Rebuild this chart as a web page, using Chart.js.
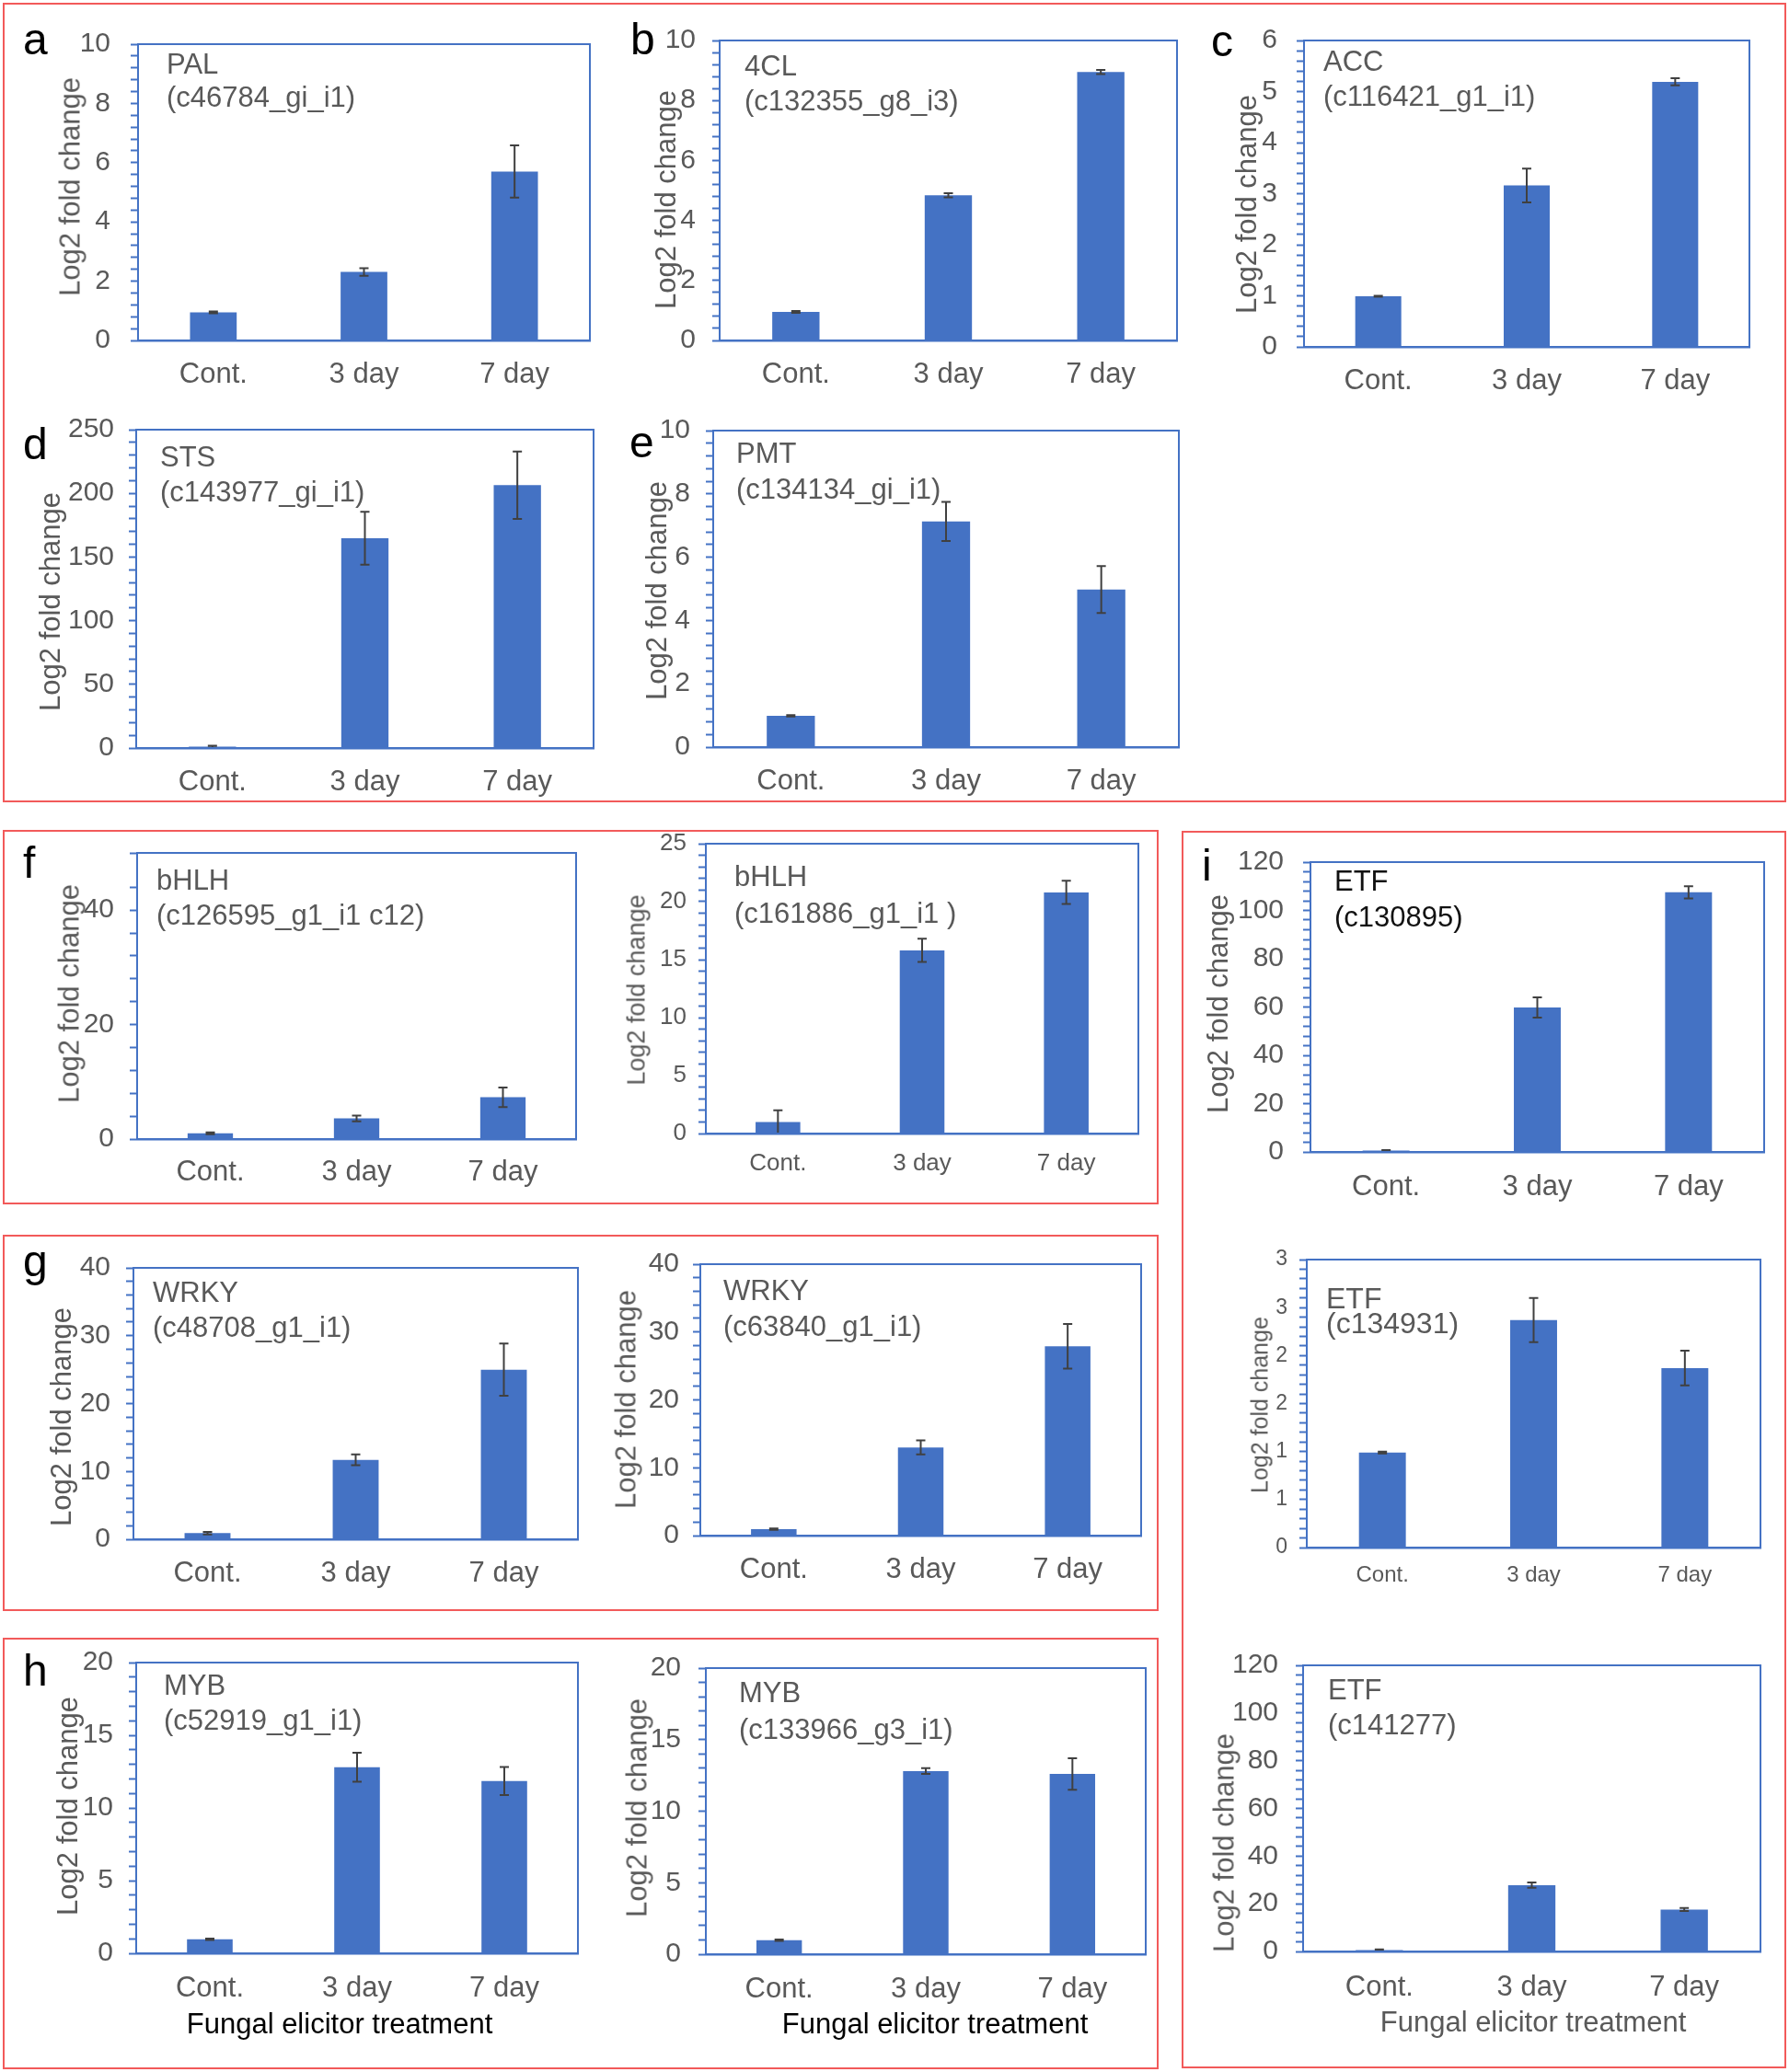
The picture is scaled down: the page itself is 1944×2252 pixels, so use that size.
<!DOCTYPE html>
<html>
<head>
<meta charset="utf-8">
<script src="https://cdn.jsdelivr.net/npm/chart.js@4.4.1/dist/chart.umd.min.js"></script>
<style>
  html, body { margin: 0; padding: 0; background: #fff; }
  #page { position: relative; width: 1944px; height: 2252px; overflow: hidden; font-family: "Liberation Sans", Arial, sans-serif; }
  canvas { position: absolute; }
  .txt { position: absolute; white-space: nowrap; line-height: 1; z-index: 2; }
  .redbox { position: absolute; border: 2px solid #f25a5a; box-sizing: border-box; }
</style>
</head>
<body>
<div id="page"></div>
<script>
/* global Chart */

// categories shared by every panel
const categories = ['Cont.', '3 day', '7 day'];

// mean log2 fold change and error per gene
const palMean = [0.95, 2.31, 5.70];   const palErr = [0.03, 0.13, 0.88];
const clMean = [0.95, 4.84, 8.95];    const clErr = [0.03, 0.07, 0.07];
const accMean = [0.99, 3.16, 5.19];   const accErr = [0.01, 0.33, 0.07];
const stsMean = [1.0, 164.8, 206.4];  const stsErr = [0.8, 20.8, 26.5];
const pmtMean = [0.99, 7.13, 4.98];   const pmtErr = [0.02, 0.62, 0.74];
const bhlh1Mean = [1.0, 3.6, 7.3];    const bhlh1Err = [0.15, 0.5, 1.7];
const bhlh2Mean = [1.0, 15.8, 20.8];  const bhlh2Err = [1.0, 1.0, 1.0];
const wrky1Mean = [0.9, 11.7, 25.0];  const wrky1Err = [0.2, 0.8, 3.85];
const wrky2Mean = [0.95, 13.0, 27.9]; const wrky2Err = [0.1, 1.05, 3.3];
const myb1Mean = [0.96, 12.8, 11.85]; const myb1Err = [0.05, 1.0, 0.97];
const myb2Mean = [0.98, 12.8, 12.6];  const myb2Err = [0.05, 0.2, 1.1];
const etf1Mean = [0.6, 59.8, 107.5];  const etf1Err = [0.2, 4.2, 2.5];
const etf2Mean = [0.99, 2.37, 1.87];  const etf2Err = [0.01, 0.23, 0.18];
const etf3Mean = [0.6, 27.8, 17.6];   const etf3Err = [0.3, 1.1, 0.6];

// y axis ranges: [max, labelled step, minor tick step]
const palAxis = [10, 2, 0.4];
const clAxis = [10, 2, 0.4];
const accAxis = [6, 1, 0.2];
const stsAxis = [250, 50, 10];
const pmtAxis = [10, 2, 0.4];
const bhlh1Axis = [50, 20, 4];
const bhlh2Axis = [25, 5, 1];
const wrkyAxis = [40, 10, 2];
const mybAxis = [20, 5, 1];
const etfBigAxis = [120, 20, 4];
const etf2Axis = [3, 0.5, 0.1];

const BLUE = '#4472C4';
const GREY = '#595959';
const FONT = '"Liberation Sans", Arial, sans-serif';
Chart.defaults.font.family = FONT;

const page = document.getElementById('page');

function addText(txt, x, baseline, size, color, align) {
  const d = document.createElement('div');
  d.className = 'txt';
  d.textContent = txt;
  d.style.fontSize = size + 'px';
  d.style.color = color;
  d.style.top = (baseline - 0.846 * size) + 'px';
  d.style.left = x + 'px';
  if (align === 'center') d.style.transform = 'translateX(-50%)';
  page.appendChild(d);
}

function addTitle(txt, cx, cy, size) {
  const d = document.createElement('div');
  d.className = 'txt';
  d.textContent = txt;
  d.style.fontSize = size + 'px';
  d.style.color = GREY;
  d.style.left = cx + 'px';
  d.style.top = cy + 'px';
  d.style.transform = 'translate(-50%, -50%) rotate(-90deg)';
  page.appendChild(d);
}

function addBox(l, t, r, b) {
  const d = document.createElement('div');
  d.className = 'redbox';
  d.style.left = l + 'px'; d.style.top = t + 'px';
  d.style.width = (r - l) + 'px'; d.style.height = (b - t) + 'px';
  page.appendChild(d);
}

// blue frame round the plot area
const framePlugin = {
  id: 'frame',
  afterDraw(chart) {
    const { ctx, chartArea: a } = chart;
    ctx.save();
    ctx.strokeStyle = BLUE;
    ctx.lineWidth = 2;
    ctx.strokeRect(a.left, a.top, a.right - a.left, a.bottom - a.top);
    ctx.restore();
  }
};

// error bars from the dataset's errors array
const errorBarPlugin = {
  id: 'errorBars',
  afterDatasetsDraw(chart) {
    const { ctx, scales: { y } } = chart;
    const ds = chart.data.datasets[0];
    const meta = chart.getDatasetMeta(0);
    ctx.save();
    ctx.strokeStyle = '#404040';
    ctx.lineWidth = 2;
    meta.data.forEach((bar, i) => {
      const v = ds.data[i], e = ds.errors[i];
      const yTop = y.getPixelForValue(v + e);
      const yBot = y.getPixelForValue(Math.max(v - e, 0));
      ctx.beginPath();
      ctx.moveTo(bar.x, yTop); ctx.lineTo(bar.x, yBot);
      ctx.moveTo(bar.x - 5, yTop); ctx.lineTo(bar.x + 5, yTop);
      ctx.moveTo(bar.x - 5, yBot); ctx.lineTo(bar.x + 5, yBot);
      ctx.stroke();
    });
    ctx.restore();
  }
};

// y scale box is wide enough that its labels are not clipped
const PAD_L = 110, PAD_T = 30, PAD_R = 12, X_H = 70, PAD_B = 5, Y_W = 100;

function makePanel(p) {
  const [yMax, major, minor] = p.axis;
  const canvas = document.createElement('canvas');
  const w = (p.R - p.L) + PAD_L + PAD_R;
  const h = (p.B - p.T) + PAD_T + X_H + PAD_B;
  canvas.width = w; canvas.height = h;
  canvas.style.left = (p.L - PAD_L) + 'px';
  canvas.style.top = (p.T - PAD_T) + 'px';
  canvas.style.width = w + 'px'; canvas.style.height = h + 'px';
  page.appendChild(canvas);

  const xFont = p.xFont || 31;
  const tickFont = p.tickFont || 30;

  new Chart(canvas.getContext('2d'), {
    type: 'bar',
    data: {
      labels: categories,
      datasets: [{
        data: p.mean,
        errors: p.err,
        backgroundColor: BLUE,
        barPercentage: 1,
        categoryPercentage: 0.31
      }]
    },
    options: {
      responsive: false,
      animation: false,
      devicePixelRatio: 1,
      layout: { padding: { left: PAD_L - Y_W, top: PAD_T, right: PAD_R, bottom: PAD_B } },
      plugins: { legend: { display: false }, tooltip: { enabled: false } },
      scales: {
        x: {
          grid: { display: false, drawTicks: false },
          border: { display: true, color: BLUE, width: 2.5 },
          ticks: {
            color: GREY,
            font: { size: xFont },
            padding: (p.xOff || 37) - xFont * 0.6,
            maxRotation: 0
          },
          afterFit(s) { s.height = X_H; }
        },
        y: {
          min: 0,
          max: yMax,
          grid: { display: true, drawOnChartArea: false, drawTicks: true, tickLength: 8, tickColor: BLUE, tickWidth: 2 },
          border: { display: true, color: BLUE, width: 2 },
          ticks: {
            stepSize: minor,
            autoSkip: false,
            color: GREY,
            font: { size: tickFont },
            padding: (p.gap || 26) - 8,
            callback(v) {
              const k = v / major;
              if (Math.abs(k - Math.round(k)) > 1e-6) return '';
              return p.round ? String(Math.round(v)) : String(Math.round(v * 100) / 100);
            }
          },
          afterFit(s) { s.width = Y_W; }
        }
      }
    },
    plugins: [errorBarPlugin, framePlugin]
  });

  const gColor = p.geneColor || GREY;
  const gSize = p.geneSize || 31;
  addText(p.gene[0], p.gx, p.gy[0], gSize, gColor);
  addText(p.gene[1], p.gx, p.gy[1], gSize, gColor);
  addTitle('Log2 fold change', p.title[0], p.title[1], p.title[2]);
}

// red group boxes
addBox(3, 3, 1941, 872);
addBox(3, 902, 1259, 1309);
addBox(3, 1342, 1259, 1751);
addBox(3, 1780, 1259, 2249);
addBox(1284, 903, 1941, 2248);

const panels = [
  { mean: palMean, err: palErr, axis: palAxis, L: 150, T: 38, R: 641, B: 370, gap: 30,
    gene: ['PAL', '(c46784_gi_i1)'], gx: 181, gy: [80, 116], title: [76, 203, 31] },
  { mean: clMean, err: clErr, axis: clAxis, L: 782, T: 38, R: 1279, B: 370, gap: 26,
    gene: ['4CL', '(c132355_g8_i3)'], gx: 809, gy: [82, 120], title: [723, 217, 31] },
  { mean: accMean, err: accErr, axis: accAxis, L: 1417, T: 35, R: 1901, B: 377, gap: 29,
    gene: ['ACC', '(c116421_g1_i1)'], gx: 1438, gy: [77, 115], title: [1354, 222, 31] },
  { mean: stsMean, err: stsErr, axis: stsAxis, L: 148, T: 463, R: 645, B: 813, gap: 24,
    gene: ['STS', '(c143977_gi_i1)'], gx: 174, gy: [507, 545], title: [54, 654, 31] },
  { mean: pmtMean, err: pmtErr, axis: pmtAxis, L: 775, T: 463, R: 1281, B: 812, gap: 25,
    gene: ['PMT', '(c134134_gi_i1)'], gx: 800, gy: [503, 542], title: [713, 642, 31] },
  { mean: bhlh1Mean, err: bhlh1Err, axis: bhlh1Axis, L: 149, T: 922, R: 626, B: 1238, gap: 25, xOff: 36,
    gene: ['bHLH', '(c126595_g1_i1 c12)'], gx: 170, gy: [967, 1005], title: [75, 1080, 31] },
  { mean: bhlh2Mean, err: bhlh2Err, axis: bhlh2Axis, L: 767, T: 917, R: 1237, B: 1232, gap: 21, xOff: 33,
    tickFont: 26, xFont: 26,
    gene: ['bHLH', '(c161886_g1_i1 )'], gx: 798, gy: [963, 1003], title: [692, 1076, 27] },
  { mean: wrky1Mean, err: wrky1Err, axis: wrkyAxis, L: 145, T: 1373, R: 628, B: 1673, gap: 25,
    gene: ['WRKY', '(c48708_g1_i1)'], gx: 166, gy: [1415, 1453], title: [66, 1540, 31] },
  { mean: wrky2Mean, err: wrky2Err, axis: wrkyAxis, L: 761, T: 1371, R: 1240, B: 1669, gap: 23,
    gene: ['WRKY', '(c63840_g1_i1)'], gx: 786, gy: [1413, 1452], title: [680, 1521, 31] },
  { mean: myb1Mean, err: myb1Err, axis: mybAxis, L: 148, T: 1802, R: 628, B: 2123, gap: 25, xOff: 38,
    gene: ['MYB', '(c52919_g1_i1)'], gx: 178, gy: [1842, 1880], title: [73, 1963, 31] },
  { mean: myb2Mean, err: myb2Err, axis: mybAxis, L: 767, T: 1806, R: 1245, B: 2124, gap: 27, xOff: 38,
    gene: ['MYB', '(c133966_g3_i1)'], gx: 803, gy: [1850, 1890], title: [692, 1965, 31] },
  { mean: etf1Mean, err: etf1Err, axis: etfBigAxis, L: 1424, T: 928, R: 1917, B: 1252, gap: 29, xOff: 38,
    gene: ['ETF', '(c130895)'], gx: 1450, gy: [968, 1007], geneColor: '#111', title: [1323, 1091, 31] },
  { mean: etf2Mean, err: etf2Err, axis: etf2Axis, L: 1420, T: 1369, R: 1913, B: 1682, gap: 21, xOff: 30,
    tickFont: 23, xFont: 24, round: true, geneSize: 32,
    gene: ['ETF', '(c134931)'], gx: 1441, gy: [1422, 1449], title: [1369, 1527, 25] },
  { mean: etf3Mean, err: etf3Err, axis: etfBigAxis, L: 1416, T: 1803, R: 1913, B: 2121, gap: 27, xOff: 39,
    gene: ['ETF', '(c141277)'], gx: 1443, gy: [1847, 1885], title: [1330, 2003, 31] }
];

panels.forEach(makePanel);

// panel letters
addText('a', 25, 60, 48, '#000');
addText('b', 685, 60, 48, '#000');
addText('c', 1316, 62, 48, '#000');
addText('d', 25, 500, 48, '#000');
addText('e', 684, 498, 48, '#000');
addText('f', 25, 955, 48, '#000');
addText('g', 25, 1388, 48, '#000');
addText('h', 25, 1833, 48, '#000');
addText('i', 1306, 958, 48, '#000');

// shared x axis captions
addText('Fungal elicitor treatment', 369, 2210, 31, '#000', 'center');
addText('Fungal elicitor treatment', 1016, 2210, 31, '#000', 'center');
addText('Fungal elicitor treatment', 1666, 2208, 31, GREY, 'center');
</script>
</body>
</html>
